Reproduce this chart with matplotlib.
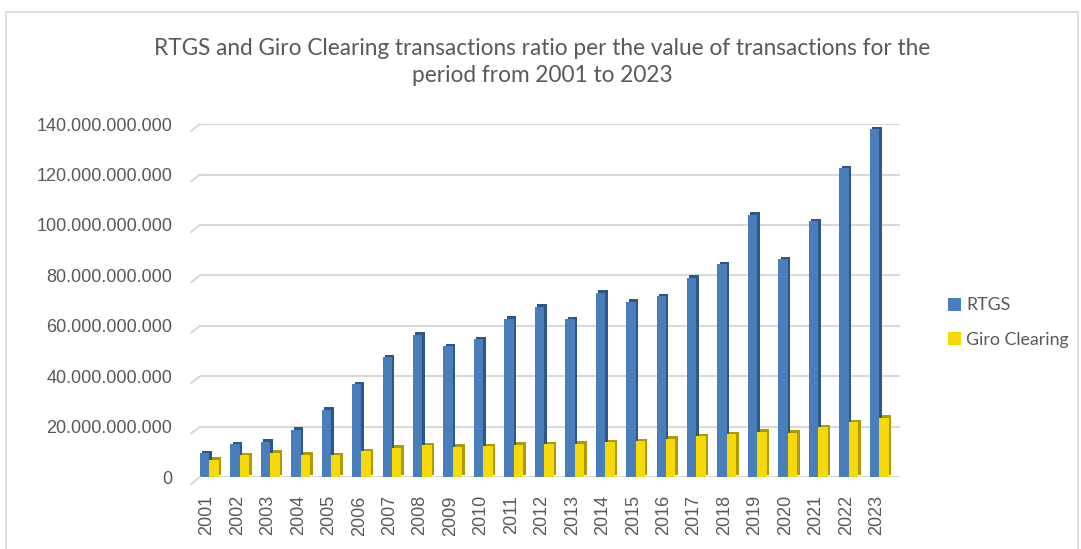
import matplotlib
matplotlib.use('Agg')
import matplotlib.pyplot as plt
import matplotlib.transforms as mtransforms
from matplotlib.patches import Rectangle
from matplotlib.ticker import FuncFormatter
import numpy as np

# data (values in currency units)
years = [str(y) for y in range(2001, 2024)]
rtgs = [9.5, 13, 14, 18.8, 26.8, 36.8, 47.5, 56.5, 51.8, 54.6, 62.8, 67.6, 62.5,
        73.2, 69.5, 71.8, 79, 84.5, 104, 86.4, 101.5, 122.5, 138]
giro = [6.8, 8.6, 9.6, 8.9, 8.6, 10.2, 11.6, 12.6, 12.0, 12.2, 12.8, 13.0, 13.2,
        13.8, 14.2, 15.2, 16.2, 17.0, 18.0, 17.6, 19.8, 21.8, 23.6]
rtgs = [v * 1e9 for v in rtgs]
giro = [v * 1e9 for v in giro]
yticks = [0, 20e9, 40e9, 60e9, 80e9, 100e9, 120e9, 140e9]

title = ("RTGS and Giro Clearing transactions ratio per the value of transactions for the\n"
         "period from 2001 to 2023")

BLUE, BLUE_SIDE = '#4a7ebb', '#2d5789'
YELLOW, YELLOW_SIDE = '#f5d90a', '#ad9a05'
GRID = '#d9d9d9'
TXT = '#595959'

fig = plt.figure(figsize=(10.81, 5.49), dpi=100)
ax = fig.add_axes([0.185, 0.131, 0.6475, 0.643])

x = np.arange(len(years))
w = 0.31
dx, dy = 2.5, 2.5
side = mtransforms.offset_copy(ax.transData, fig=fig, x=dx, y=dy, units='dots')

ax.bar(x - 0.08, rtgs, w, color=BLUE_SIDE, transform=side, zorder=2)
ax.bar(x - 0.08, rtgs, w, color=BLUE, zorder=3, label='RTGS')
ax.bar(x + 0.23, giro, w, color=YELLOW_SIDE, transform=side, zorder=4)
ax.bar(x + 0.23, giro, w, color=YELLOW, zorder=5, label='Giro Clearing')

ax.set_xlim(-0.23, 22.76)
ax.set_ylim(0, 140e9)
ax.set_yticks(yticks)
ax.yaxis.set_major_formatter(FuncFormatter(lambda v, p: f"{int(v):,}".replace(',', '.')))
ax.set_xticks(x)
ax.set_xticklabels(years, rotation=90)

# back-wall gridlines with small slanted floor stubs on the left
for yv in yticks:
    ax.axhline(yv, color=GRID, lw=1.5, zorder=1)
    ax.annotate('', xy=(-0.23, yv), xytext=(-9, -7), textcoords='offset pixels',
                arrowprops=dict(arrowstyle='-', color=GRID, lw=1.5, shrinkA=0, shrinkB=0),
                annotation_clip=False)

for s in ax.spines.values():
    s.set_visible(False)
ax.tick_params(axis='both', length=0, labelsize=13, labelcolor=TXT)
ax.tick_params(axis='y', pad=20)
ax.tick_params(axis='x', pad=13)
for lab in ax.get_xticklabels() + ax.get_yticklabels():
    lab.set_family('Liberation Sans')

fig.text(0.5014, 0.887, title, ha='center', va='center', fontsize=16.3,
         color=TXT, family='Lato', linespacing=1.32)

leg = ax.legend(loc='center left', bbox_to_anchor=(0.862, 0.412), bbox_transform=fig.transFigure,
                frameon=False, handlelength=0.75, handleheight=0.75,
                handletextpad=0.3, labelspacing=1.05, prop={'family': 'Lato', 'size': 12.8})
for t in leg.get_texts():
    t.set_color(TXT)

# outer chart frame
fig.add_artist(Rectangle((6 / 1081, -0.01), 1072 / 1081, 1 - 12 / 549 + 0.01,
                         transform=fig.transFigure, fill=False, edgecolor=GRID, lw=1.2))

fig.savefig('out.png', dpi=100)
